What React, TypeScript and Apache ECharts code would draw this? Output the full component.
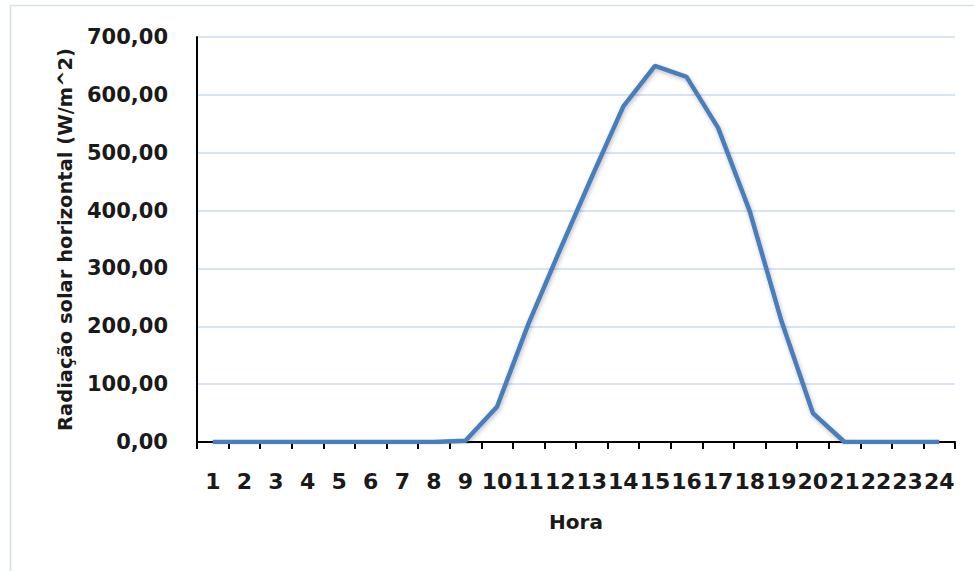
import React, { useEffect, useRef } from "react";
import * as echarts from "echarts";

const hours: string[] = [
  "1", "2", "3", "4", "5", "6", "7", "8", "9", "10", "11", "12",
  "13", "14", "15", "16", "17", "18", "19", "20", "21", "22", "23", "24",
];
const radiation: number[] = [
  0, 0, 0, 0, 0, 0, 0, 0, 2, 61, 205, 333,
  458, 580, 650, 631, 543, 399, 210, 50, 0, 0, 0, 0,
];
const yTicks = { min: 0, max: 700, interval: 100 };
const xTitle = "Hora";
const yTitle = "Radiação solar horizontal (W/m^2)";

const FONT = "DejaVu Sans";

export default function App() {
  const ref = useRef<HTMLDivElement>(null);
  useEffect(() => {
    if (!ref.current) return;
    const chart = echarts.init(ref.current, null, { renderer: "svg" });
    chart.setOption({
      animation: false,
      backgroundColor: "#ffffff",
      graphic: [
        {
          type: "rect",
          shape: { x: 10.5, y: 5.5, width: 1000, height: 1000 },
          style: { fill: "none", stroke: "#d5dfed", lineWidth: 1.5 },
          silent: true,
          z: -10,
        },
      ],
      grid: { left: 197, right: 19, top: 37, bottom: 129, containLabel: false },
      xAxis: {
        type: "category",
        data: hours,
        boundaryGap: true,
        name: xTitle,
        nameLocation: "middle",
        nameGap: 70,
        nameTextStyle: { fontFamily: FONT, fontWeight: "bold", fontSize: 20, color: "#1a1a1a" },
        axisLine: { lineStyle: { color: "#000000", width: 2 } },
        axisTick: { show: true, length: 7, lineStyle: { color: "#000000", width: 2 } },
        axisLabel: {
          interval: 0,
          margin: 28,
          fontFamily: FONT,
          fontWeight: "bold",
          fontSize: 22,
          color: "#1a1a1a",
        },
        splitLine: { show: false },
      },
      yAxis: {
        type: "value",
        min: yTicks.min,
        max: yTicks.max,
        interval: yTicks.interval,
        name: yTitle,
        nameLocation: "middle",
        nameGap: 122,
        nameRotate: 90,
        nameTextStyle: { fontFamily: FONT, fontWeight: "bold", fontSize: 19.5, color: "#1a1a1a" },
        axisLine: { show: true, lineStyle: { color: "#000000", width: 2 } },
        axisTick: { show: false },
        axisLabel: {
          margin: 29,
          fontFamily: FONT,
          fontWeight: "bold",
          fontSize: 21,
          color: "#1a1a1a",
          formatter: (v: number) => v.toFixed(2).replace(".", ","),
        },
        splitLine: { show: true, lineStyle: { color: "#d9e4f3", width: 2 } },
      },
      series: [
        {
          type: "line",
          data: radiation,
          showSymbol: false,
          symbol: "none",
          lineStyle: {
            color: "#4a7ebb",
            width: 4.5,
            shadowColor: "rgba(0,0,0,0.25)",
            shadowBlur: 4,
            shadowOffsetX: 1,
            shadowOffsetY: 2,
          },
          itemStyle: { color: "#4a7ebb" },
        },
      ],
    });
    return () => chart.dispose();
  }, []);
  return (
    <div
      ref={ref}
      style={{ position: "fixed", left: 0, top: 0, width: 974, height: 571 }}
    />
  );
}
